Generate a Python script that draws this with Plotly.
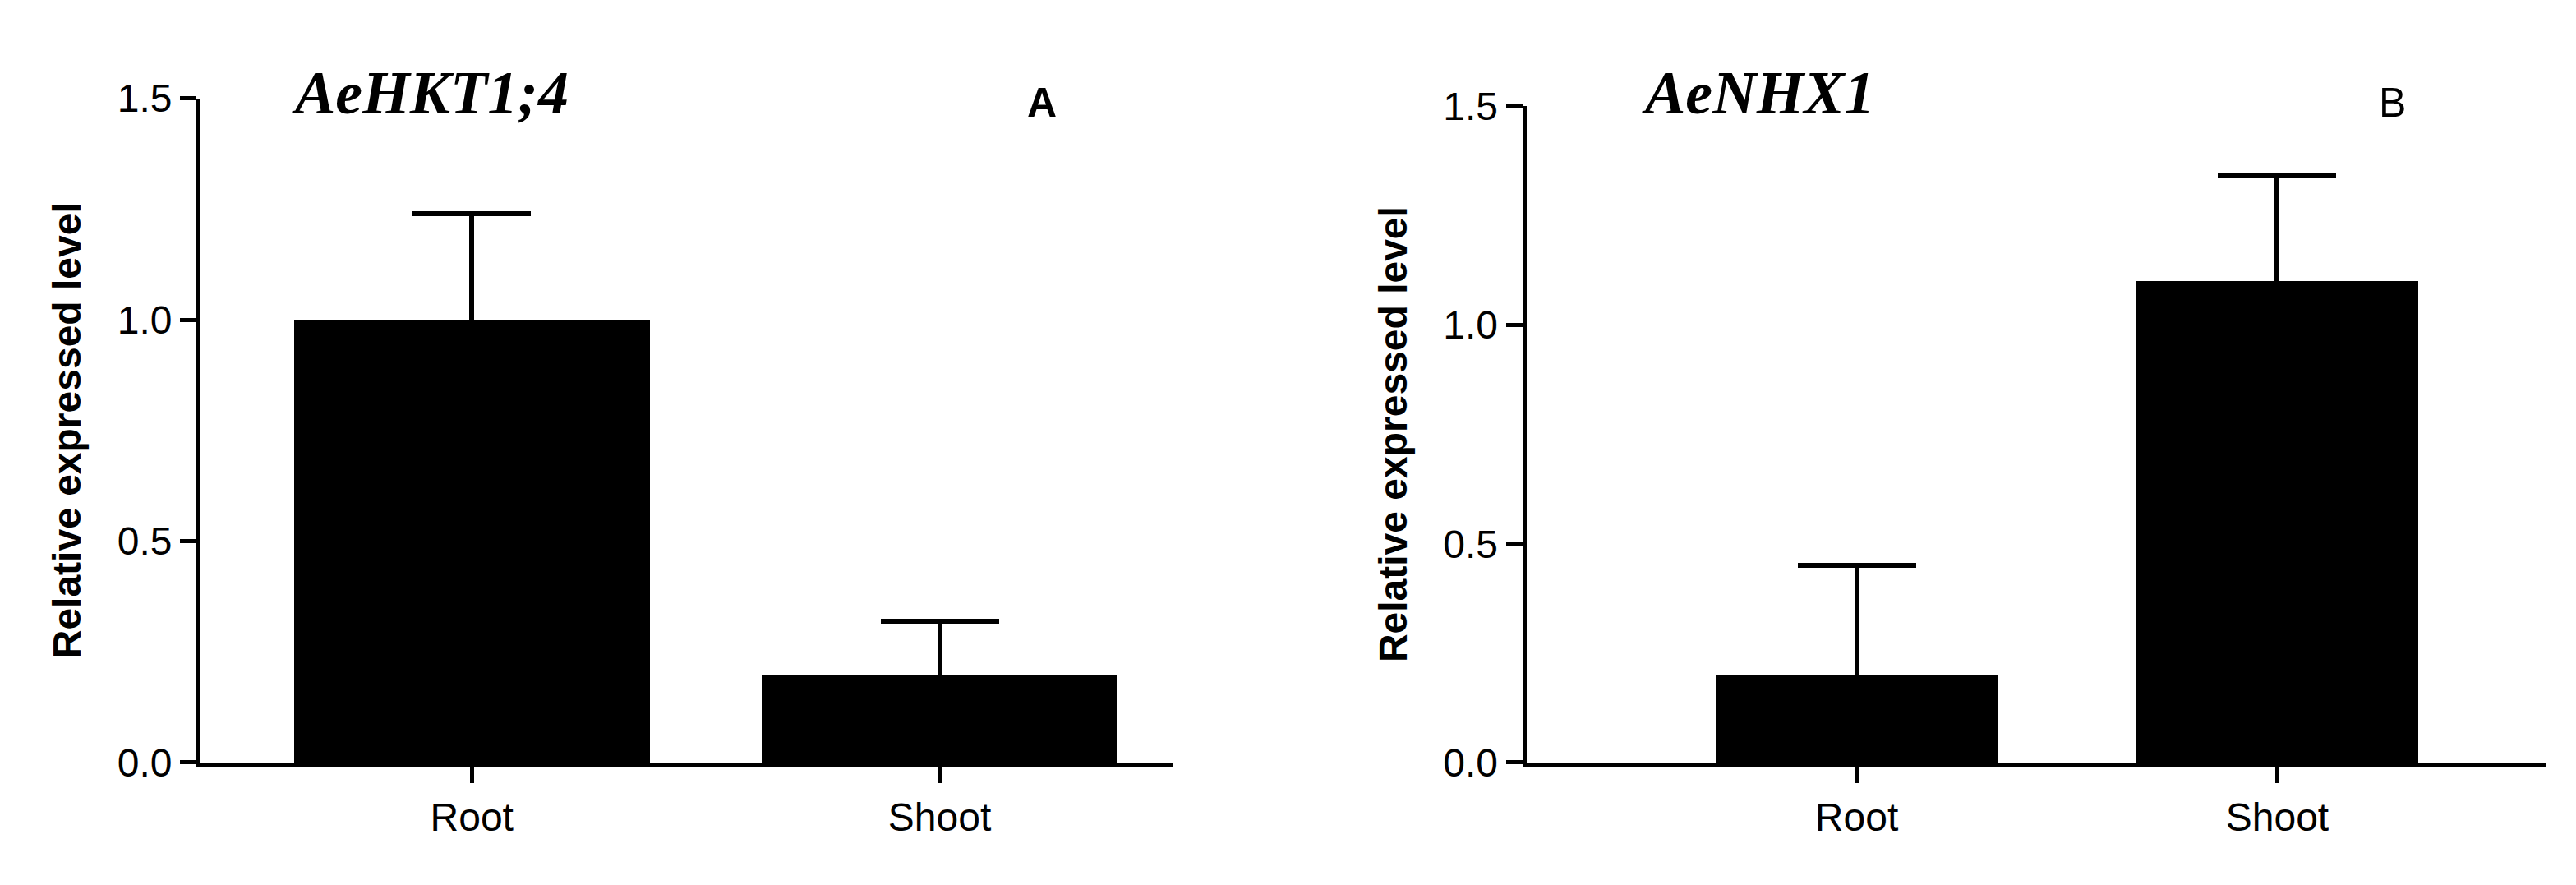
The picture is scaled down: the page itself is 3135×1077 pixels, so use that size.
import plotly.graph_objects as go

cats = ["Root", "Shoot"]
a_vals = [1.0, 0.2]
a_err = [0.24, 0.12]
b_vals = [0.2, 1.1]
b_err = [0.25, 0.24]
yticks = [0, 0.5, 1.0, 1.5]

fig = go.Figure()
for vals, err, xa, ya, w in [(a_vals, a_err, "x", "y", 0.76), (b_vals, b_err, "x2", "y2", 0.67)]:
    # invisible bar carrying symmetric error bars; lower half hidden by the real bar
    fig.add_trace(go.Bar(x=cats, y=vals, xaxis=xa, yaxis=ya, width=w,
                         marker=dict(color="rgba(0,0,0,0)", line=dict(width=0)),
                         error_y=dict(type="data", array=err, color="black", thickness=6, width=72),
                         showlegend=False, hoverinfo="skip"))
    fig.add_trace(go.Bar(x=cats, y=vals, xaxis=xa, yaxis=ya, width=w,
                         marker=dict(color="black", line=dict(width=0)), showlegend=False))

ax = dict(showline=True, linecolor="black", linewidth=5, ticks="outside", ticklen=20, tickwidth=5,
          tickcolor="black", tickfont=dict(family="Liberation Sans, Arial", size=48, color="black"),
          showgrid=False, zeroline=False)
yax = dict(ax, range=[0, 1.5], tickvals=yticks, tickformat=".1f",
           title=dict(text="<b>Relative expressed level</b>", font=dict(family="Liberation Sans, Arial", size=48, color="black"), standoff=30))
fig.update_layout(
    width=3135, height=1077, margin=dict(l=0, r=0, t=0, b=0),
    plot_bgcolor="white", paper_bgcolor="white", bargap=0, barmode="overlay",
    xaxis=dict(ax, domain=[0.0753, 0.453], range=[-0.58, 1.5], type="category"),
    yaxis=dict(yax, domain=[0.127, 0.9164], anchor="x"),
    xaxis2=dict(ax, domain=[0.590, 0.986], range=[-0.785, 1.64], type="category", anchor="y2"),
    yaxis2=dict(yax, domain=[0.127, 0.907], anchor="x2"),
    annotations=[
        dict(text="<b><i>AeHKT1;4</i></b>", x=0.11, y=0.965, xref="paper", yref="paper", showarrow=False, xanchor="left",
             font=dict(family="Liberation Serif", size=74, color="black")),
        dict(text="<b>A</b>", x=0.402, y=0.94, xref="paper", yref="paper", showarrow=False,
             font=dict(family="Liberation Sans", size=50, color="black")),
        dict(text="<b><i>AeNHX1</i></b>", x=0.634, y=0.965, xref="paper", yref="paper", showarrow=False, xanchor="left",
             font=dict(family="Liberation Serif", size=74, color="black")),
        dict(text="B", x=0.932, y=0.94, xref="paper", yref="paper", showarrow=False,
             font=dict(family="Liberation Sans", size=50, color="black")),
    ])
fig.write_html("out.html")
